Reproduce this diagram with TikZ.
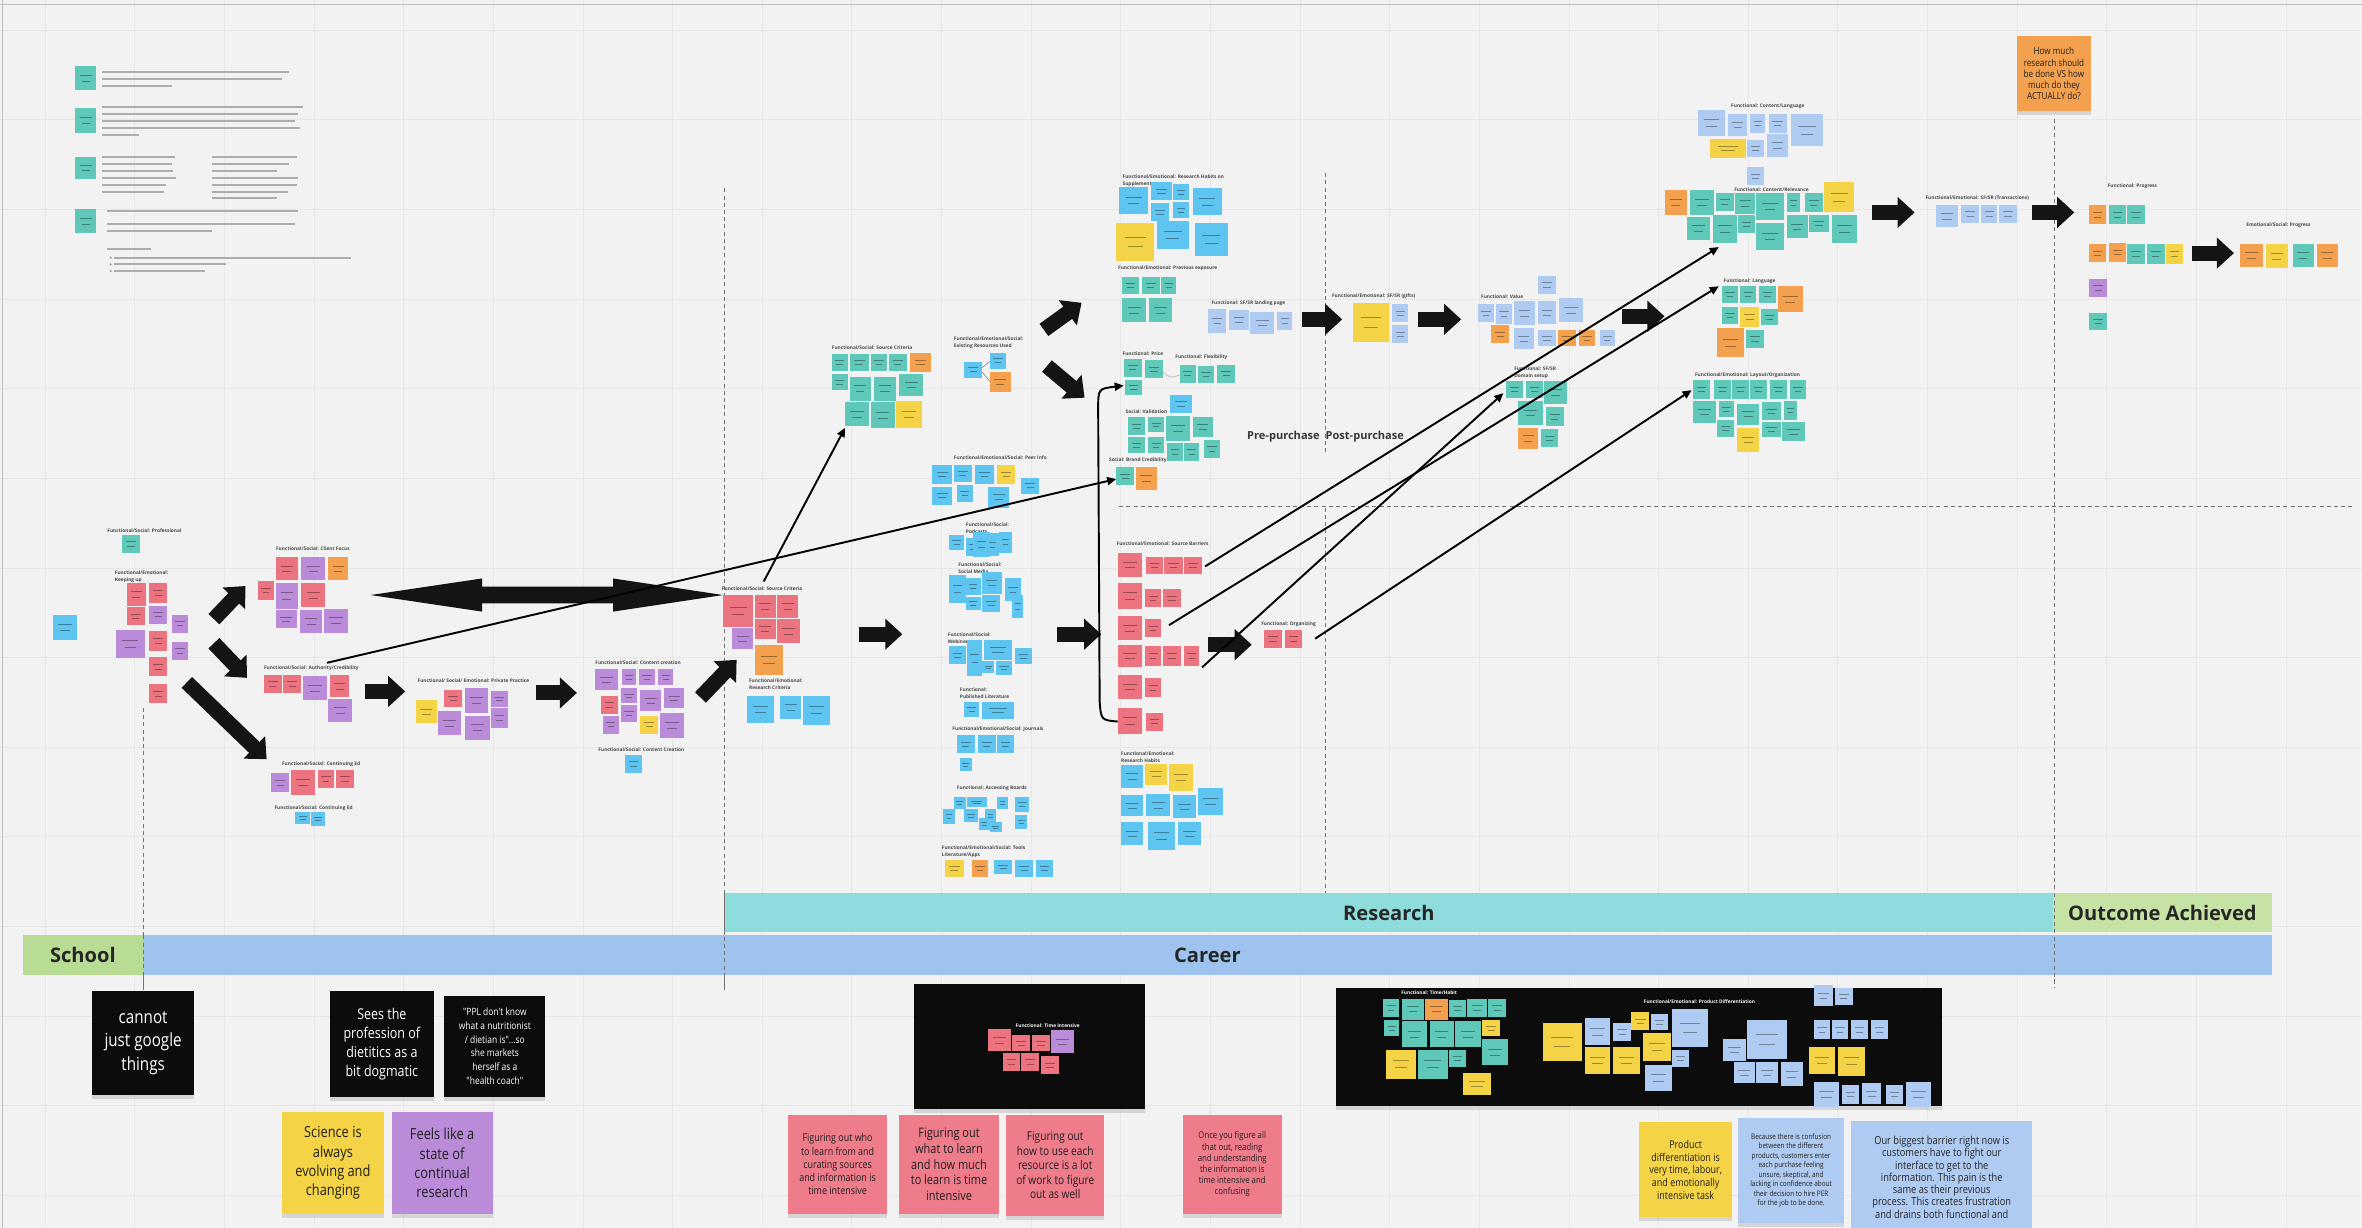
\documentclass[tikz,border=0pt]{standalone}
\usepackage{fontspec}
\setmainfont{Open Sans}
\newfontfamily\nfont[FakeStretch=0.84]{Open Sans}
\usetikzlibrary{arrows.meta,shadows}
\definecolor{bg}{HTML}{F2F2F2}
\definecolor{gridc}{HTML}{E7E7E7}
\definecolor{pk}{HTML}{EC7380}
\definecolor{pu}{HTML}{B98BD8}
\definecolor{tl}{HTML}{5FC8B9}
\definecolor{bl}{HTML}{5DC5F0}
\definecolor{pb}{HTML}{AFCBF1}
\definecolor{ye}{HTML}{F4D347}
\definecolor{og}{HTML}{F3A04F}
\definecolor{nb}{HTML}{0C0C0C}
\definecolor{schoolc}{HTML}{B8DC93}
\definecolor{careerc}{HTML}{9DC3EE}
\definecolor{researchc}{HTML}{8EDCDC}
\definecolor{outc}{HTML}{C6E2A5}
\definecolor{bpk}{HTML}{EF7C8B}
\tikzset{
  blkarrow/.style={line width=7.5pt, black!92, -{Triangle[length=8.5pt,width=15pt]}},
  conn/.style={line width=0.95pt, black, -{Triangle[length=4.5pt,width=4pt]}},
  dsh/.style={black!55, line width=0.6pt, dash pattern=on 2pt off 1.6pt},
  scrib/.style={line width=0.35pt, black, opacity=0.35},
  txtbar/.style={line width=1pt, black!32},
  lbl/.style={anchor=north west, inner sep=0pt, font=\fontsize{2.4}{3.5}\selectfont\bfseries, text=black!72, align=left},
  wlbl/.style={lbl, text=white},
  band/.style={inner sep=0pt, font=\fontsize{10}{12}\selectfont\bfseries, text=black!85},
  bignote/.style={inner sep=1pt, align=center, text=black!88,
    drop shadow={shadow xshift=0pt,shadow yshift=-2pt,opacity=0.25}},
  fs/.style 2 args={font={\nfont\fontsize{#1}{#2}\selectfont}},
  phase/.style={inner sep=0pt, font=\fontsize{5.5}{6}\selectfont\bfseries, text=black!78},
}
\newcommand\mynt[5]{\fill[#1] (#2,#3) rectangle (#4,#5);
  \draw[scrib] ({#2+0.22*(#4-#2)},{#3+0.38*(#5-#3)}) -- ({#4-0.22*(#4-#2)},{#3+0.38*(#5-#3)})
    ({#2+0.3*(#4-#2)},{#3+0.62*(#5-#3)}) -- ({#4-0.3*(#4-#2)},{#3+0.62*(#5-#3)});}
\newcommand\mytb[3]{\draw[txtbar] (#2,#1) -- (#3,#1);}
\newcommand\mylb[3]{\node[lbl] at (#1,#2) {#3};}
\newcommand\mywlb[3]{\node[wlbl] at (#1,#2) {#3};}
\newcommand\boxnode[7]{\node[#2, minimum width={(#5-#3)*0.75pt}, minimum height={(#6-#4)*0.75pt}] (#1) at ({(#3+#5)/2},{(#4+#6)/2}) {#7};}
\begin{document}
\begin{tikzpicture}[x=0.75pt,y=-0.75pt]
\useasboundingbox (0,0) rectangle (1568,815);
\clip (0,0) rectangle (1568,815);
\fill[bg] (0,0) rectangle (1568,815);
\foreach \gx in {30,89.5,...,1568} \draw[gridc, line width=0.4pt] (\gx,0) -- (\gx,815);
\foreach \gy in {20,79.5,...,815} \draw[gridc, line width=0.4pt] (0,\gy) -- (1568,\gy);
\draw[black!25, line width=0.6pt] (0,3) -- (1568,3) (1.5,0) -- (1.5,815);

% ---------- legend (top left) ----------
\mynt{tl}{50}{44}{64}{60}
\mynt{tl}{50}{72}{64}{88}
\mynt{tl}{50}{104}{64}{119}
\mynt{tl}{50}{139}{64}{155}
\mytb{47.6}{68}{192} \mytb{52.5}{68}{187} \mytb{57}{68}{114}
\mytb{71}{68}{201} \mytb{76}{68}{198} \mytb{80.5}{68}{196} \mytb{85}{68}{199} \mytb{89.5}{68}{92}
\mytb{104}{68}{116} \mytb{109}{68}{114} \mytb{113.5}{68}{115} \mytb{118}{68}{117} \mytb{123}{68}{110} \mytb{127.5}{68}{109}
\mytb{104}{141}{197} \mytb{109}{141}{192} \mytb{113.5}{141}{184} \mytb{118}{141}{198} \mytb{123}{141}{197} \mytb{127.5}{141}{191} \mytb{131.5}{141}{184}
\mytb{140}{71}{198} \mytb{149}{71}{196} \mytb{153.5}{71}{141}
\mytb{165}{71}{100}
\mytb{171}{76}{233} \mytb{175.5}{76}{150} \mytb{180}{76}{136}
\fill[black!35] (73.5,171) circle (0.8) (73.5,175.5) circle (0.8) (73.5,180) circle (0.8);

% ---------- dashed dividers ----------
\draw[dsh] (95,470) -- (95,657);
\draw[dsh] (481,125) -- (481,657);
\draw[dsh] (880,115) -- (880,300);
\draw[dsh] (880,337) -- (880,594);
\draw[dsh] (743,336) -- (1562,336);
\draw[dsh] (1364,79) -- (1364,656);

% ---------- bands ----------
\boxnode{research}{band,fill=researchc}{481}{593}{1363}{619}{Research}
\boxnode{outcome}{band,fill=outc}{1363}{593}{1508}{619}{Outcome Achieved}
\boxnode{school}{band,fill=schoolc}{15}{621}{95}{647}{School}
\boxnode{career}{band,fill=careerc}{95}{621}{1508}{647}{Career}
\draw[dsh] (95,621) -- (95,657);
\draw[dsh] (481,593) -- (481,657);
\draw[dsh] (1364,593) -- (1364,656);

% ---------- left clusters ----------
\mynt{bl}{35}{408}{51}{425}
\mylb{71}{350.5}{Functional/Social: Professional}
\mynt{tl}{81}{355}{93}{367}
\mylb{76}{378.5}{Functional/Emotional:\\Keeping up}
\mynt{pk}{84}{387}{97}{402}
\mynt{pk}{99}{387}{111}{400}
\mynt{pk}{84}{403}{96}{415}
\mynt{pu}{99}{402}{111}{414}
\mynt{pu}{114}{408}{125}{420}
\mynt{pu}{77}{418}{96}{437}
\mynt{pk}{99}{419}{111}{432}
\mynt{pu}{114}{426}{125}{438}
\mynt{pk}{99}{436}{111}{449}
\mynt{pk}{99}{454}{111}{467}

\mylb{183}{362.5}{Functional/Social: Client Focus}
\mynt{pk}{183}{370}{198}{385}
\mynt{pu}{200}{370}{216}{385}
\mynt{og}{218}{370}{231}{385}
\mynt{pk}{171}{386}{182}{398}
\mynt{pu}{183}{387}{198}{404}
\mynt{pk}{200}{387}{216}{403}
\mynt{pu}{183}{405}{197}{417}
\mynt{pu}{199}{405}{214}{420}
\mynt{pu}{215}{404}{231}{420}

\mylb{175}{441.5}{Functional/Social: Authority/Credibility}
\mynt{pk}{175}{448}{187}{460}
\mynt{pk}{188}{448}{200}{460}
\mynt{pu}{201}{449}{217}{465}
\mynt{pk}{219}{448}{232}{463}
\mynt{pu}{218}{464}{234}{479}

\mylb{277}{450.5}{Functional/ Social/ Emotional: Private Practice}
\mynt{ye}{276}{465}{290}{480}
\mynt{pk}{295}{458}{307}{469}
\mynt{pu}{309}{457}{324}{473}
\mynt{pu}{326}{459}{337}{469}
\mynt{pu}{326}{470}{337}{483}
\mynt{pu}{291}{472}{306}{488}
\mynt{pu}{309}{475}{325}{491}

\mylb{395}{438.5}{Functional/Social: Content creation}
\mynt{pu}{395}{444}{410}{458}
\mynt{pu}{413}{444}{422}{455}
\mynt{pu}{424}{444}{435}{455}
\mynt{pu}{437}{444}{447}{455}
\mynt{pk}{399}{462}{410}{474}
\mynt{pu}{412}{457}{423}{467}
\mynt{pu}{425}{458}{439}{472}
\mynt{pu}{441}{457}{454}{470}
\mynt{pu}{400}{475}{411}{487}
\mynt{pu}{412}{468}{423}{479}
\mynt{ye}{425}{475}{437}{487}
\mynt{pu}{438}{473}{454}{490}

\mylb{187}{505.5}{Functional/Social: Continuing Ed}
\mynt{pu}{180}{513}{192}{526}
\mynt{pk}{193}{511}{209}{528}
\mynt{pk}{211}{511}{222}{523}
\mynt{pk}{223}{511}{235}{523}
\mylb{182}{534.5}{Functional/Social: Continuing Ed}
\mynt{bl}{196}{539}{206}{547}
\mynt{bl}{206.5}{539}{216}{548}
\mylb{397}{496.5}{Functional/Social: Content Creation}
\mynt{bl}{415}{501}{426}{513}

% ---------- research criteria ----------
\mylb{479}{389.5}{Functional/Social: Source Criteria}
\mynt{pk}{480}{395}{500}{416}
\mynt{pk}{501}{395}{515}{410}
\mynt{pk}{516}{395}{530}{410}
\mynt{pk}{501}{411}{515}{424}
\mynt{pk}{516}{411}{531}{427}
\mynt{pu}{486}{417}{500}{431}
\mynt{og}{501}{428}{520}{448}
\mylb{497}{450.5}{Functional/Emotional:\\Research Criteria}
\mynt{bl}{496}{462}{514}{480}
\mynt{bl}{518}{462}{532}{477}
\mynt{bl}{533}{462}{551}{481}

\mylb{552}{229.5}{Functional/Social: Source Criteria}
\mynt{tl}{552}{235}{563}{246}
\mynt{tl}{564}{235}{577}{246}
\mynt{tl}{578}{235}{589}{246}
\mynt{tl}{590}{235}{602}{246}
\mynt{og}{604}{234}{618}{247}
\mynt{tl}{552}{248}{563}{259}
\mynt{tl}{564}{250}{578}{266}
\mynt{tl}{580}{250}{595}{266}
\mynt{tl}{597}{248}{613}{263}
\mynt{tl}{561}{267}{577}{283}
\mynt{tl}{578}{267}{594}{284}
\mynt{ye}{595}{266}{612}{284}

% ---------- middle column ----------
\mylb{633}{223.5}{Functional/Emotional/Social:\\Existing Resources Used}
\mynt{bl}{640}{240}{652}{251}
\mynt{bl}{657}{234}{668}{245}
\mynt{og}{657}{247}{671}{260}
\draw[black!50, line width=0.3pt] (652,244) -- (657,240) (652,247) -- (657,253);

\mylb{633}{302.5}{Functional/Emotional/Social: Peer Info}
\mynt{bl}{619}{309}{632}{321}
\mynt{bl}{633}{309}{645}{320}
\mynt{bl}{647}{309}{660}{321}
\mynt{ye}{662}{309}{674}{321}
\mynt{bl}{619}{323}{632}{335}
\mynt{bl}{635}{322}{646}{333}
\mynt{bl}{656}{323}{670}{337}
\mynt{bl}{678}{317}{690}{328}

\mylb{641}{346.5}{Functional/Social:\\Podcasts}
\mynt{bl}{630}{355}{640}{365}
\mynt{bl}{641}{357}{651}{369}
\mynt{bl}{646}{353}{657}{370}
\mynt{bl}{655}{354}{663}{369}
\mynt{bl}{663}{353}{672}{367}

\mylb{636}{373.5}{Functional/Social:\\Social Media}
\mynt{bl}{630}{382}{641}{400}
\mynt{bl}{641}{384}{651}{395}
\mynt{bl}{652}{380}{665}{394}
\mynt{bl}{667}{384}{678}{399}
\mynt{bl}{641}{396}{651}{405}
\mynt{bl}{652}{395}{664}{406}
\mynt{bl}{672}{395}{679}{410}

\mylb{629}{419.5}{Functional/Social:\\Webinars}
\mynt{bl}{630}{429}{641}{441}
\mynt{bl}{642}{425}{652}{449}
\mynt{bl}{653}{425}{672}{438}
\mynt{bl}{652}{439}{660}{447}
\mynt{bl}{661}{439}{672}{448}
\mynt{bl}{674}{430}{685}{441}

\mylb{637}{456.5}{Functional:\\Published Literature}
\mynt{bl}{640}{466}{650}{476}
\mynt{bl}{652}{466}{673}{477}

\mylb{632}{482.5}{Functional/Emotional/Social: Journals}
\mynt{bl}{635}{488}{647}{500}
\mynt{bl}{649}{488}{661}{500}
\mynt{bl}{662}{488}{673}{500}
\mynt{bl}{637}{503}{645}{512}

\mylb{635}{521.5}{Functional: Accessing Boards}
\mynt{bl}{626}{537}{634}{547}
\mynt{bl}{633}{529}{641}{537}
\mynt{bl}{640}{537}{649}{546}
\mynt{bl}{642}{529}{655}{536}
\mynt{bl}{650}{543}{657}{551}
\mynt{bl}{654}{537}{661}{546}
\mynt{bl}{657}{546}{665}{552}
\mynt{bl}{662}{529}{669}{537}
\mynt{bl}{674}{529}{683}{539}
\mynt{bl}{674}{541}{682}{550}

\mylb{625}{561.5}{Functional/Emotional/Social: Tools\\Literature/Apps}
\mynt{ye}{627}{571}{640}{582}
\mynt{og}{645}{571}{656}{582}
\mynt{bl}{660}{571}{672}{580}
\mynt{bl}{674}{571}{686}{582}
\mynt{bl}{688}{571}{699}{582}

% ---------- upper research clusters ----------
\mylb{745}{115.5}{Functional/Emotional: Research Habits on\\Supplements}
\mynt{bl}{743}{124}{762}{142}
\mynt{bl}{764}{121}{778}{133}
\mynt{bl}{779}{122}{789}{133}
\mynt{bl}{792}{125}{811}{143}
\mynt{bl}{764}{135}{776}{147}
\mynt{bl}{779}{134}{789}{145}
\mynt{ye}{741}{148}{766}{173}
\mynt{bl}{768}{147}{789}{165}
\mynt{bl}{793}{148}{815}{170}

\mylb{742}{176.5}{Functional/Emotional: Previous exposure}
\mynt{tl}{745}{184}{756}{195}
\mynt{tl}{758}{184}{770}{195}
\mynt{tl}{771}{184}{781}{195}
\mynt{tl}{745}{198}{761}{214}
\mynt{tl}{763}{198}{778}{214}

\mylb{804}{199.5}{Functional: SF/SR landing page}
\mynt{pb}{802}{205}{814}{221}
\mynt{pb}{816}{206}{829}{219}
\mynt{pb}{830}{207}{846}{222}
\mynt{pb}{848}{207}{858}{219}

\mylb{884}{194.5}{Functional/Emotional: SF/SR (gifts)}
\mynt{ye}{898}{201}{922}{227}
\mynt{pb}{924}{202}{935}{214}
\mynt{pb}{924}{216}{935}{228}

\mylb{983}{195.5}{Functional: Value}
\mynt{pb}{1021}{183}{1033}{195}
\mynt{pb}{981}{202}{992}{214}
\mynt{pb}{993}{202}{1004}{215}
\mynt{pb}{1005}{200}{1019}{216}
\mynt{pb}{1021}{200}{1033}{215}
\mynt{pb}{1035}{198}{1051}{214}
\mynt{og}{990}{216}{1002}{228}
\mynt{pb}{1005}{218}{1018}{232}
\mynt{pb}{1021}{219}{1033}{230}
\mynt{og}{1034}{219}{1046}{230}
\mynt{og}{1048}{219}{1059}{230}
\mynt{pb}{1062}{219}{1072}{230}

\mylb{1005}{243.5}{Functional: SF/SR\\Domain setup}
\mynt{tl}{1000}{253}{1011}{264}
\mynt{tl}{1013}{253}{1024}{264}
\mynt{tl}{1025}{253}{1040}{268}
\mynt{tl}{1008}{266}{1024}{282}
\mynt{tl}{1026}{270}{1038}{283}
\mynt{og}{1008}{284}{1021}{298}
\mynt{tl}{1023}{285}{1034}{297}

\mylb{745}{233.5}{Functional: Price}
\mynt{tl}{746}{238}{758}{250}
\mynt{tl}{760}{239}{772}{251}
\mynt{tl}{747}{252}{758}{262}
\mylb{780}{235.5}{Functional: Flexibility}
\mynt{tl}{783}{242}{794}{254}
\mynt{tl}{795}{243}{806}{254}
\mynt{tl}{808}{242}{820}{254}
\draw[black!25, line width=0.4pt] (772,247) .. controls (777,251) .. (783,249);

\mylb{747}{271.5}{Social: Validation}
\mynt{bl}{777}{262}{791}{274}
\mynt{tl}{749}{277}{760}{289}
\mynt{tl}{762}{277}{773}{287}
\mynt{tl}{774}{276}{790}{293}
\mynt{tl}{792}{277}{805}{290}
\mynt{tl}{749}{290}{760}{301}
\mynt{tl}{762}{290}{773}{301}
\mynt{tl}{775}{294}{785}{306}
\mynt{tl}{786}{294}{796}{306}
\mynt{tl}{799}{292}{810}{304}

\mylb{736}{303.5}{Social: Brand Credibility}
\mynt{tl}{741}{310}{753}{322}
\mynt{og}{754}{310}{768}{325}

\node[phase] (pre) at (852,290) {Pre-purchase};
\node[phase] (post) at (906,290) {Post-purchase};

% ---------- lower research clusters ----------
\mylb{741}{359.5}{Functional/Emotional: Source Barriers}
\mynt{pk}{742}{367}{758}{383}
\mynt{pk}{761}{370}{772}{381}
\mynt{pk}{773}{370}{785}{381}
\mynt{pk}{786}{370}{798}{381}
\mynt{pk}{742}{387}{758}{404}
\mynt{pk}{760}{391}{771}{403}
\mynt{pk}{772}{391}{784}{403}
\mynt{pk}{742}{409}{758}{425}
\mynt{pk}{760}{411}{771}{423}
\mynt{pk}{742}{428}{758}{443}
\mynt{pk}{760}{429}{771}{442}
\mynt{pk}{772}{429}{784}{442}
\mynt{pk}{786}{429}{796}{442}
\mynt{pk}{742}{448}{758}{464}
\mynt{pk}{760}{450}{771}{463}
\mynt{pk}{742}{470}{758}{487}
\mynt{pk}{761}{473}{772}{485}

\mylb{837}{412.5}{Functional: Organizing}
\mynt{pk}{839}{418}{851}{430}
\mynt{pk}{853}{418}{864}{430}

\mylb{744}{498.5}{Functional/Emotional:\\Research Habits}
\mynt{bl}{744}{508}{759}{523}
\mynt{ye}{760}{507}{775}{521}
\mynt{ye}{776}{507}{792}{525}
\mynt{bl}{744}{528}{759}{542}
\mynt{bl}{761}{527}{777}{542}
\mynt{bl}{779}{528}{794}{543}
\mynt{bl}{795}{523}{812}{541}
\mynt{bl}{744}{546}{759}{561}
\mynt{bl}{762}{546}{780}{564}
\mynt{bl}{782}{546}{797}{561}

% ---------- right clusters ----------
\mylb{1149}{68.5}{Functional: Content/Language}
\mynt{pb}{1127}{73}{1145}{90}
\mynt{pb}{1147}{76}{1160}{90}
\mynt{pb}{1162}{76}{1172}{88}
\mynt{pb}{1174}{76}{1186}{88}
\mynt{pb}{1189}{76}{1210}{97}
\mynt{ye}{1135}{92}{1159}{105}
\mynt{pb}{1160}{93}{1171}{104}
\mynt{pb}{1173}{89}{1187}{104}
\mynt{pb}{1160}{111}{1171}{123}

\mylb{1151}{124.5}{Functional: Content/Relevance}
\mynt{og}{1105}{126}{1120}{143}
\mynt{tl}{1122}{126}{1138}{143}
\mynt{tl}{1139}{128}{1151}{140}
\mynt{tl}{1152}{128}{1165}{142}
\mynt{tl}{1166}{128}{1184}{146}
\mynt{tl}{1186}{128}{1195}{141}
\mynt{tl}{1198}{128}{1210}{141}
\mynt{ye}{1211}{121}{1231}{141}
\mynt{tl}{1120}{144}{1135}{159}
\mynt{tl}{1137}{143}{1153}{161}
\mynt{tl}{1154}{143}{1165}{155}
\mynt{tl}{1166}{148}{1184}{166}
\mynt{tl}{1186}{143}{1200}{158}
\mynt{tl}{1201}{143}{1214}{154}
\mynt{tl}{1216}{143}{1233}{161}

\mylb{1144}{184.5}{Functional: Language}
\mynt{tl}{1143}{190}{1154}{201}
\mynt{tl}{1155}{190}{1166}{201}
\mynt{tl}{1168}{190}{1179}{201}
\mynt{og}{1180}{190}{1197}{207}
\mynt{tl}{1143}{204}{1154}{215}
\mynt{ye}{1155}{204}{1168}{217}
\mynt{tl}{1169}{205}{1180}{216}
\mynt{og}{1140}{218}{1158}{237}
\mynt{tl}{1159}{219}{1171}{231}

\mylb{1125}{247.5}{Functional/Emotional: Layout/Organization}
\mynt{tl}{1124}{252}{1135}{265}
\mynt{tl}{1138}{252}{1149}{265}
\mynt{tl}{1150}{252}{1161}{265}
\mynt{tl}{1162}{252}{1173}{265}
\mynt{tl}{1175}{252}{1186}{265}
\mynt{tl}{1188}{252}{1199}{265}
\mynt{tl}{1124}{266}{1139}{281}
\mynt{tl}{1141}{266}{1151}{277}
\mynt{tl}{1153}{268}{1168}{282}
\mynt{tl}{1170}{267}{1182}{279}
\mynt{tl}{1184}{266}{1193}{279}
\mynt{tl}{1140}{279}{1151}{290}
\mynt{ye}{1153}{284}{1168}{300}
\mynt{tl}{1170}{280}{1182}{290}
\mynt{tl}{1183}{280}{1198}{293}

\mylb{1278}{129.5}{Functional/Emotional: SF/SR (Transactions)}
\mynt{pb}{1285}{136}{1300}{151}
\mynt{pb}{1302}{136}{1314}{148}
\mynt{pb}{1315}{136}{1326}{148}
\mynt{pb}{1327}{136}{1339}{148}

\mylb{1399}{121.5}{Functional: Progress}
\mynt{og}{1387}{136}{1398}{149}
\mynt{tl}{1400}{136}{1411}{149}
\mynt{tl}{1412}{136}{1424}{149}
\mynt{og}{1387}{162}{1398}{174}
\mynt{og}{1400}{161}{1411}{174}
\mynt{tl}{1412}{162}{1424}{175}
\mynt{tl}{1425}{162}{1437}{175}
\mynt{ye}{1438}{162}{1449}{175}
\mynt{pu}{1387}{185}{1399}{197}
\mynt{tl}{1387}{208}{1399}{219}

\mylb{1491}{147.5}{Emotional/Social: Progress}
\mynt{og}{1487}{162}{1502}{177}
\mynt{ye}{1504}{162}{1519}{178}
\mynt{tl}{1522}{162}{1536}{177}
\mynt{og}{1538}{162}{1552}{177}

\boxnode{question}{bignote,fill=og,fs={4.8}{5.6}}{1339}{24}{1388}{74}{How much\\research should\\be done VS how\\much do they\\ACTUALLY do?}

% ---------- block arrows ----------
\fill[black!92] (246,395) -- (320,384) -- (320,389.5) -- (407,389.5) -- (407,384) -- (480,395) -- (407,406) -- (407,400.5) -- (320,400.5) -- (320,406) -- cycle;
\draw[blkarrow] (142,411) -- (163,389);
\draw[blkarrow] (142,427) -- (164,450);
\draw[blkarrow] (124,453) -- (177,504);
\draw[blkarrow] (242,459) -- (269,459);
\draw[blkarrow] (356,460) -- (383,460);
\draw[blkarrow] (465,463) -- (489,438);
\draw[blkarrow] (570,421) -- (599,421);
\draw[blkarrow] (702,421) -- (731,421);
\draw[blkarrow] (802,428) -- (831,428);
\draw[blkarrow] (693,219) -- (718,201);
\draw[blkarrow] (695,243) -- (720,264);
\draw[blkarrow] (864,212) -- (891,212);
\draw[blkarrow] (941,212) -- (970,212);
\draw[blkarrow] (1077,210) -- (1105,210);
\draw[blkarrow] (1243,141) -- (1271,141);
\draw[blkarrow] (1349,141) -- (1377,141);
\draw[blkarrow] (1455,168) -- (1483,168);

% ---------- thin connectors ----------
\coordinate (authS) at (217,440);
\coordinate (brandE) at (741,318);
\coordinate (srcS) at (507,386);
\coordinate (srcE) at (561,284);
\coordinate (barrA) at (800,376);
\coordinate (relE) at (1141,164);
\coordinate (barrB) at (776,415);
\coordinate (langE) at (1141,190);
\coordinate (barrC) at (798,443);
\coordinate (domE) at (998,261);
\coordinate (orgS) at (873,424);
\coordinate (layE) at (1123,259);
\coordinate (curS) at (742,479);
\coordinate (priceE) at (746,256);
\draw[conn] (authS) -- (brandE);
\draw[conn] (srcS) -- (srcE);
\draw[conn] (barrA) -- (relE);
\draw[conn] (barrB) -- (langE);
\draw[conn] (barrC) -- (domE);
\draw[conn] (orgS) -- (layE);
\draw[conn] (curS) .. controls (731,478) .. (730,466) -- (729,272) .. controls (729,258) .. (priceE);

% ---------- bottom: black notes and stickies ----------
\boxnode{google}{bignote,fill=nb,text=white,fs={9}{11.5}}{61}{658}{129}{727}{cannot\\just google\\things}
\boxnode{dogma}{bignote,fill=nb,text=white,fs={7.4}{9.4}}{219}{658}{288}{728}{Sees the\\profession of\\dietitics as a\\bit dogmatic}
\boxnode{ppl}{bignote,fill=nb,text=white,fs={5}{6.8}}{295}{661}{362}{728}{"PPL don't know\\what a nutritionist\\/ dietian is"...so\\she markets\\herself as a\\"health coach"}
\boxnode{science}{bignote,fill=ye,fs={7.6}{9.6}}{187}{738}{255}{806}{Science is\\always\\evolving and\\changing}
\boxnode{feels}{bignote,fill=pu,fs={7.6}{9.6}}{260}{738}{327}{806}{Feels like a\\state of\\continual\\research}

\node[fill=nb, minimum width={153.6*0.75pt}, minimum height={83*0.75pt}, inner sep=0pt, drop shadow={shadow xshift=0pt,shadow yshift=-2pt,opacity=0.25}] (screenA) at (683.4,694.5) {};
\mywlb{674}{679.5}{Functional: Time Intensive}
\mynt{pk}{656}{683}{671}{698}
\mynt{pk}{672}{687}{684}{698}
\mynt{pk}{685}{687}{697}{698}
\mynt{pu}{698}{684}{713}{699}
\mynt{pk}{666}{699}{677}{711}
\mynt{pk}{678}{699}{690}{711}
\mynt{pk}{691}{701}{703}{713}

\boxnode{who}{bignote,fill=bpk,fs={5.3}{6.6}}{523}{740}{589}{806}{Figuring out who\\to learn from and\\curating sources\\and information is\\time intensive}
\boxnode{what}{bignote,fill=bpk,fs={6.5}{7.8}}{597}{740}{663}{806}{Figuring out\\what to learn\\and how much\\to learn is time\\intensive}
\boxnode{how}{bignote,fill=bpk,fs={6}{7.2}}{668}{740}{733}{807}{Figuring out\\how to use each\\resource is a lot\\of work to figure\\out as well}
\boxnode{once}{bignote,fill=bpk,fs={4.6}{5.6}}{785}{740}{851}{806}{Once you figure all\\that out, reading\\and understanding\\the information is\\time intensive and\\confusing}

\node[fill=nb, minimum width={402*0.75pt}, minimum height={78*0.75pt}, inner sep=0pt, drop shadow={shadow xshift=0pt,shadow yshift=-2pt,opacity=0.25}] (screenB) at (1088,695) {};
\mywlb{930}{657.5}{Functional: Time/Habit}
\mynt{tl}{918}{663}{929}{675}
\mynt{tl}{931}{663}{945}{677}
\mynt{og}{946}{663}{961}{677}
\mynt{tl}{962}{664}{973}{675}
\mynt{tl}{974}{663}{987}{675}
\mynt{tl}{988}{663}{1000}{675}
\mynt{tl}{919}{677}{929}{688}
\mynt{tl}{931}{678}{947}{695}
\mynt{tl}{949}{678}{965}{695}
\mynt{tl}{966}{678}{983}{695}
\mynt{ye}{984}{677}{996}{688}
\mynt{ye}{920}{697}{940}{716}
\mynt{tl}{941}{697}{961}{716}
\mynt{tl}{962}{697}{973}{708}
\mynt{tl}{984}{690}{1001}{707}
\mynt{ye}{971}{712}{990}{727}
\mywlb{1091}{663.5}{Functional/Emotional: Product Differentiation}
\mynt{ye}{1024}{679}{1050}{704}
\mynt{pb}{1052}{676}{1069}{694}
\mynt{pb}{1071}{679}{1083}{691}
\mynt{ye}{1083}{672}{1095}{684}
\mynt{pb}{1096}{673}{1107}{684}
\mynt{pb}{1110}{670}{1134}{695}
\mynt{ye}{1052}{695}{1069}{713}
\mynt{ye}{1071}{695}{1089}{713}
\mynt{ye}{1091}{686}{1109}{704}
\mynt{pb}{1110}{697}{1121}{708}
\mynt{pb}{1092}{707}{1110}{724}
\mynt{pb}{1144}{690}{1159}{704}
\mynt{pb}{1160}{677}{1186}{703}
\mynt{pb}{1151}{705}{1165}{719}
\mynt{pb}{1166}{705}{1180}{719}
\mynt{pb}{1182}{705}{1197}{721}
\mynt{pb}{1204}{654}{1217}{668}
\mynt{pb}{1218}{656}{1230}{667}
\mynt{pb}{1204}{677}{1215}{690}
\mynt{pb}{1216}{677}{1227}{690}
\mynt{pb}{1229}{677}{1240}{690}
\mynt{pb}{1242}{677}{1253}{690}
\mynt{ye}{1201}{695}{1218}{713}
\mynt{ye}{1220}{695}{1238}{714}
\mynt{pb}{1204}{718}{1221}{735}
\mynt{pb}{1223}{720}{1234}{733}
\mynt{pb}{1236}{719}{1249}{733}
\mynt{pb}{1252}{720}{1263}{733}
\mynt{pb}{1265}{718}{1282}{735}

\boxnode{prod}{bignote,fill=ye,fs={5.3}{6.3}}{1088}{745}{1150}{808}{Product\\differentiation is\\very time, labour,\\and emotionally\\intensive task}
\boxnode{confuse}{bignote,fill=pb,fs={3.8}{4.7}}{1154}{742}{1224}{812}{Because there is confusion\\between the different\\products, customers enter\\each purchase feeling\\unsure, skeptical, and\\lacking in confidence about\\their decision to hire PER\\for the job to be done.}
\node[fill=pb, minimum width={120*0.75pt}, minimum height={90*0.75pt}, inner sep=0pt, drop shadow={shadow xshift=0pt,shadow yshift=-2pt,opacity=0.25}] (barrier) at (1289,789) {};
\node[anchor=north, inner sep=0pt, align=center, fs={5.5}{6.1}, text=black!85] (barriertxt) at (1289,754) {Our biggest barrier right now is\\customers have to fight our\\interface to get to the\\information. This pain is the\\same as their previous\\process. This creates frustration\\and drains both functional and};
\end{tikzpicture}
\end{document}
